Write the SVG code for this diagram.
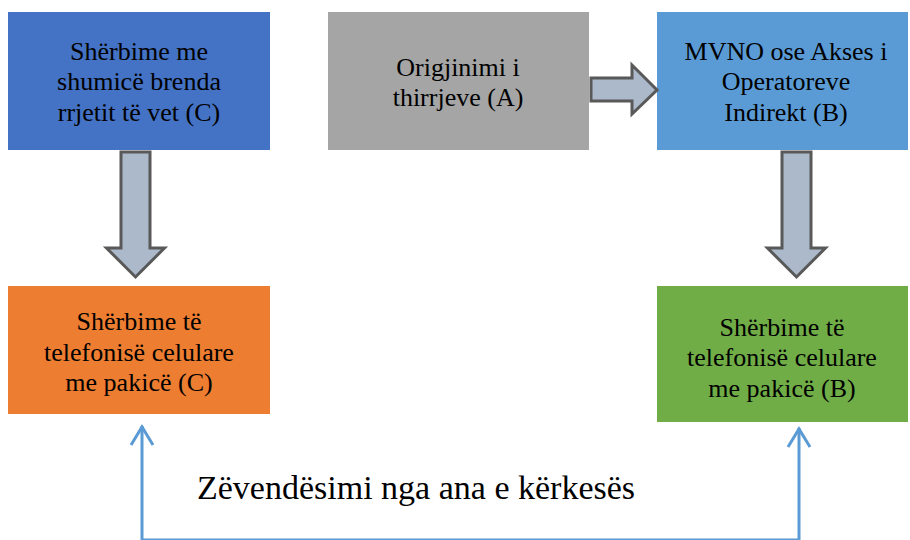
<svg xmlns="http://www.w3.org/2000/svg" width="910" height="540" viewBox="0 0 910 540">
<defs>
<polygon id="downArrow" points="-14.5,0 14.5,0 14.5,96 29,96 0,125 -29,96 -14.5,96" fill="#ACB9CA" stroke="#595959" stroke-width="3"/>
</defs>
<rect width="910" height="540" fill="#fff"/>
<g id="nodeC"><rect x="8" y="12" width="262" height="138" fill="#4472C4"/>
<g font-family="Liberation Serif" font-size="26" text-anchor="middle" fill="#000"><text x="139" y="60">Shërbime me</text><text x="139" y="90">shumicë brenda</text><text x="139" y="121">rrjetit të vet (C)</text></g></g>
<g id="nodeA"><rect x="328" y="12" width="261" height="138" fill="#A5A5A5"/>
<g font-family="Liberation Serif" font-size="26" text-anchor="middle" fill="#000"><text x="458" y="76">Origjinimi i</text><text x="458" y="106">thirrjeve (A)</text></g></g>
<g id="nodeB"><rect x="657" y="12" width="251" height="138" fill="#5B9BD5"/>
<g font-family="Liberation Serif" font-size="26" text-anchor="middle" fill="#000"><text x="786" y="60">MVNO ose Akses i</text><text x="786" y="90">Operatoreve</text><text x="786" y="121">Indirekt (B)</text></g></g>
<g id="nodeRC"><rect x="8" y="286" width="262" height="128" fill="#ED7D31"/>
<g font-family="Liberation Serif" font-size="26" text-anchor="middle" fill="#000"><text x="139" y="330">Shërbime të</text><text x="139" y="361">telefonisë celulare</text><text x="139" y="391">me pakicë (C)</text></g></g>
<g id="nodeRB"><rect x="657" y="286" width="251" height="136" fill="#70AD47"/>
<g font-family="Liberation Serif" font-size="26" text-anchor="middle" fill="#000"><text x="782" y="336">Shërbime të</text><text x="782" y="366">telefonisë celulare</text><text x="782" y="397">me pakicë (B)</text></g></g>
<g id="connectors">
<use href="#downArrow" x="135.5" y="152"/>
<use href="#downArrow" x="796.5" y="152"/>
<polygon points="591,78 632,78 632,65 657,90 632,114 632,101 591,101" fill="#ACB9CA" stroke="#595959" stroke-width="3"/>
<g fill="none" stroke="#5B9BD5" stroke-width="3">
<path d="M142,426 V540 H799 V428"/>
<path d="M131,445 L142,427 L153,445"/>
<path d="M788,447 L799,429 L810,447"/>
</g>
</g>
<text font-family="Liberation Serif" font-size="34" fill="#000" x="197" y="499">Zëvendësimi nga ana e kërkesës</text>
</svg>
